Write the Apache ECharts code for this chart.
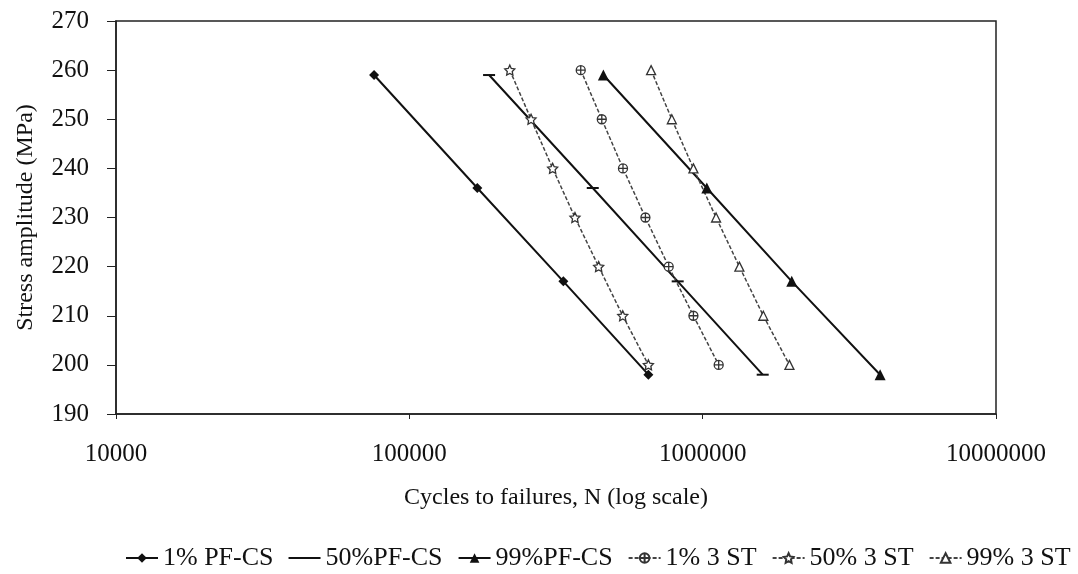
<!DOCTYPE html>
<html>
<head>
<meta charset="utf-8">
<script src="https://cdn.jsdelivr.net/npm/echarts@6/dist/echarts.min.js"></script>
<style>
html,body{margin:0;padding:0;background:#fff;}
#c{width:1078px;height:574px;}
</style>
</head>
<body>
<div id="c"></div>
<script>
// ---- data ----
var seriesNames = ['1% PF-CS', '50%PF-CS', '99%PF-CS', '1% 3 ST', '50% 3 ST', '99% 3 ST'];
var stressPF = [259, 236, 217, 198];
var pf1 = [75800, 170500, 335000, 653000];
var pf50 = [187000, 422000, 822000, 1602000];
var pf99 = [458600, 1033000, 2012000, 4027000];
var stressST = [260, 250, 240, 230, 220, 210, 200];
var st1 = [384000, 453000, 535000, 638000, 766000, 930000, 1134000];
var st50 = [220000, 260000, 308000, 367000, 442000, 534000, 653000];
var st99 = [667000, 785000, 930000, 1111000, 1334000, 1610000, 1976000];
var xTicks = [10000, 100000, 1000000, 10000000];
var yTicks = [190, 200, 210, 220, 230, 240, 250, 260, 270];
var xTitle = 'Cycles to failures, N (log scale)';
var yTitle = 'Stress amplitude (MPa)';

function pairs(xs, ys) { return xs.map(function (x, i) { return [x, ys[i]]; }); }

var FONT = 'Liberation Serif';
var starPath = 'path://M0,-10 L2.9,-4 L9.5,-3.1 L4.7,1.5 L5.9,8.1 L0,5 L-5.9,8.1 L-4.7,1.5 L-9.5,-3.1 L-2.9,-4 Z';
var circCross = 'path://M0,-10 A10,10 0 1,1 0,10 A10,10 0 1,1 0,-10 Z M-10,0 L10,0 M0,-10 L0,10';
var dashPath = 'path://M0,0 L12,0 L12,2 L0,2 Z';
var lineIcon = 'path://M0,0 L30,0 L30,2 L0,2 Z';

function pfSeries(name, data, symbol, size) {
  return {
    name: name, type: 'line', data: data, symbol: symbol, symbolSize: size,
    symbolKeepAspect: true,
    lineStyle: { color: '#111', width: 2 },
    itemStyle: { color: '#111' },
    emphasis: { disabled: true }
  };
}
function stSeries(name, data, symbol, size) {
  return {
    name: name, type: 'line', data: data, symbol: symbol, symbolSize: size,
    lineStyle: { color: '#444', width: 1.5, type: [4, 2] },
    itemStyle: { color: '#fff', borderColor: '#333', borderWidth: 1.3 },
    emphasis: { disabled: true }
  };
}

var legendData = seriesNames.map(function (n, i) {
  return i === 1 ? { name: n, icon: lineIcon } : { name: n };
});

var chart = echarts.init(document.getElementById('c'));
chart.setOption({
  animation: false,
  backgroundColor: '#fff',
  textStyle: { fontFamily: FONT, color: '#111' },
  grid: { left: 116, right: 82, top: 21, bottom: 160, show: true, borderColor: '#222', borderWidth: 1.5 },
  legend: {
    left: 120, top: 540,
    itemWidth: 32, itemHeight: 12, itemGap: 15,
    symbolKeepAspect: true,
    textStyle: { fontFamily: FONT, fontSize: 26, color: '#111' },
    data: legendData
  },
  xAxis: {
    type: 'log', logBase: 10, min: xTicks[0], max: xTicks[xTicks.length - 1],
    name: xTitle, nameLocation: 'middle', nameGap: 72,
    nameTextStyle: { fontFamily: FONT, fontSize: 24, color: '#111' },
    axisLine: { lineStyle: { color: '#222', width: 1.5 } },
    axisTick: { show: true, inside: false, length: 5, lineStyle: { color: '#222' } },
    minorTick: { show: false },
    splitLine: { show: false },
    axisLabel: { fontFamily: FONT, fontSize: 25, color: '#111', margin: 28,
      formatter: function (v) { return String(Math.round(v)); } }
  },
  yAxis: {
    type: 'value', min: yTicks[0], max: yTicks[yTicks.length - 1], interval: 10,
    name: yTitle, nameLocation: 'middle', nameGap: 78,
    nameTextStyle: { fontFamily: FONT, fontSize: 24, color: '#111' },
    axisLine: { show: true, lineStyle: { color: '#222', width: 1.5 } },
    axisTick: { show: true, inside: false, length: 9, lineStyle: { color: '#222' } },
    splitLine: { show: false },
    axisLabel: { fontFamily: FONT, fontSize: 25, color: '#111', margin: 27 }
  },
  series: [
    pfSeries(seriesNames[0], pairs(pf1, stressPF), 'diamond', 10),
    pfSeries(seriesNames[1], pairs(pf50, stressPF), dashPath, 12),
    pfSeries(seriesNames[2], pairs(pf99, stressPF), 'triangle', 11),
    stSeries(seriesNames[3], pairs(st1, stressST), circCross, 9),
    stSeries(seriesNames[4], pairs(st50, stressST), starPath, 10),
    stSeries(seriesNames[5], pairs(st99, stressST), 'triangle', 9)
  ]
});
</script>
</body>
</html>
